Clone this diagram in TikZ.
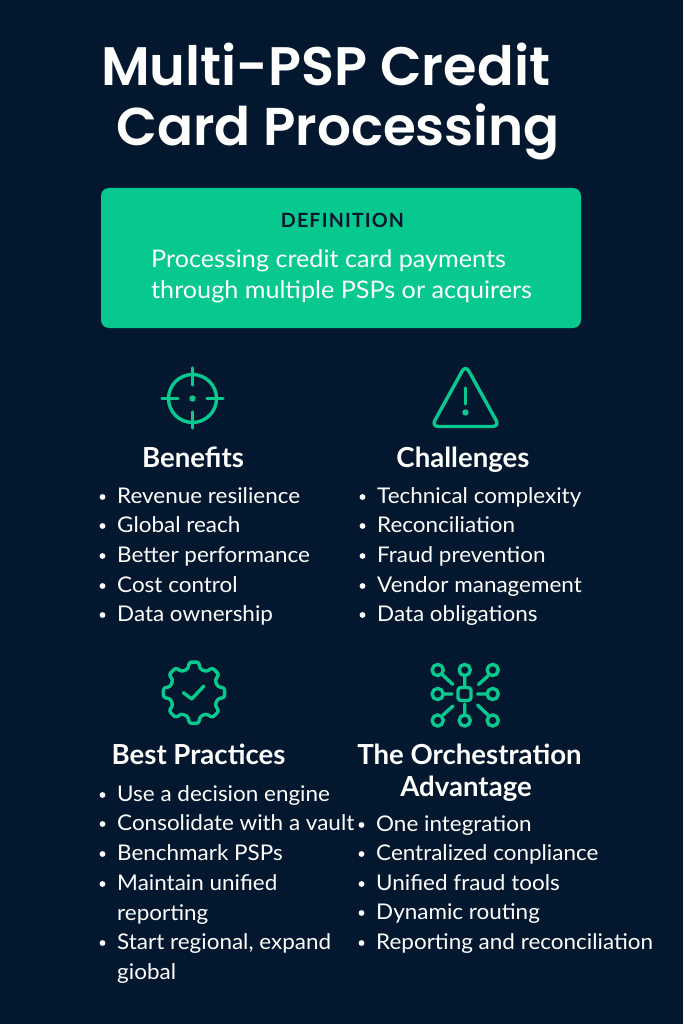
\documentclass[tikz,border=0pt]{standalone}
\usepackage{fontspec}
\setmainfont{Lato}
\newfontfamily\titlefont{Poppins}[UprightFont=* SemiBold,BoldFont=* SemiBold]
\newfontfamily\bodyfont{Lato}[FakeStretch=1.04]
\definecolor{bgnavy}{HTML}{03182F}
\definecolor{mint}{HTML}{07C98F}
\tikzset{
  txt/.style={anchor=base west,inner sep=0pt,text=white,font=\bodyfont\fontsize{21.6}{21.6}\selectfont},
  head/.style={anchor=base,inner sep=0pt,text=white,font=\fontsize{27.6}{27.6}\selectfont\bfseries},
  ttl/.style={anchor=base west,inner sep=0pt,text=white,font=\titlefont\fontsize{54.2}{54.2}\selectfont},
  ttlb/.style={anchor=base west,inner sep=0pt,text=white,font=\titlefont\fontsize{53.2}{53.2}\selectfont},
  dfn/.style={anchor=base west,inner sep=0pt,text=white,font=\bodyfont\fontsize{24.2}{24.2}\selectfont},
  icon/.style={draw=mint,line width=3.4pt,line cap=round,line join=round},
  dotb/.style={fill=white}
}
\newcommand{\itm}[4]{% name, x, y, text
  \fill[dotb] (#2-14.5,-#3+6) circle (2.9);
  \node[txt] (#1) at (#2,-#3-0.7) {#4};}
\newcommand{\cnt}[2]{(#1,-#2) circle (5.6)}
\begin{document}
\begin{tikzpicture}[x=1pt,y=1pt]
\path[use as bounding box,fill=bgnavy] (0,0) rectangle (683,-1024);
% title
\node[ttl] (t1) at (101,-86) {Multi-PSP Credit};
\node[ttlb] (t2) at (116,-146) {Card Processing};
% definition box
\fill[mint,rounded corners=8] (101,-188) rectangle (581,-328);
\node[anchor=base,inner sep=0pt,text=bgnavy,font=\fontsize{19.6}{19.6}\selectfont\bfseries] (d0) at (342.5,-228) {\addfontfeature{LetterSpace=6}DEFINITION};
\node[dfn] (d1) at (151,-267.6) {Processing credit card payments};
\node[dfn] (d2) at (151,-298.6) {through multiple PSPs or acquirers};
% target icon
\draw[icon] (192.5,-398.5) circle (24);
\draw[icon] (192.5,-368) -- (192.5,-385) (192.5,-412) -- (192.5,-428)
            (162,-398.5) -- (178,-398.5) (207,-398.5) -- (223,-398.5);
\fill[mint] (192.5,-398.5) circle (3.2);
% warning icon
\draw[icon,rounded corners=7] (465.5,-365) -- (499.5,-426.5) -- (431.5,-426.5) -- cycle;
\draw[icon] (465.5,-388) -- (465.5,-404);
\fill[mint] (465.5,-412.5) circle (3.2);
% gear icon
\draw[icon,rounded corners=2.5]
  \foreach \a [count=\i] in {90,45,0,-45,-90,-135,180,135}{
    \ifnum\i=1 ([shift={(\a+9:31)}]194,-692.7) \else -- ([shift={(\a+9:31)}]194,-692.7)\fi
    -- ([shift={(\a-9:31)}]194,-692.7)
    -- ([shift={(\a-14:24.5)}]194,-692.7)
    -- ([shift={(\a-31:24.5)}]194,-692.7)
  } -- cycle;
\draw[icon] (183.3,-692.7) -- (191.7,-699) -- (204,-686);
% network icon
\draw[icon,rounded corners=3] (458,-687.5) rectangle (471,-700.5);
\draw[icon] \cnt{437.7}{670} \cnt{464.7}{670} \cnt{492.7}{670}
            \cnt{437.7}{694} \cnt{492.7}{694}
            \cnt{437.7}{720.5} \cnt{464.7}{720.5} \cnt{492.7}{720.5};
\draw[icon] (442.7,-675) -- (452.7,-684.3) (464.7,-676) -- (464.7,-687)
            (478.5,-684.5) -- (488,-676) (444,-694) -- (452,-694)
            (477.5,-694) -- (486.5,-694) (443,-715) -- (453,-706)
            (464.7,-704) -- (464.7,-714) (477.5,-705) -- (488,-715);
% headings
\node[head] (h1) at (193,-467.3) {Benefits};
\node[head] (h2) at (463,-467.3) {Challenges};
\node[head] (h3) at (198.5,-764.3) {Best Practices};
\node[head] (h4) at (469.5,-764.3) {The Orchestration};
\node[head] (h4b) at (466,-796.3) {Advantage};
% lists
\itm{a1}{117}{503}{Revenue resilience}
\itm{a2}{117}{532}{Global reach}
\itm{a3}{117}{562}{Better performance}
\itm{a4}{117}{592}{Cost control}
\itm{a5}{117}{621}{Data ownership}
\itm{b1}{377}{503}{Technical complexity}
\itm{b2}{377}{532}{Reconciliation}
\itm{b3}{377}{562}{Fraud prevention}
\itm{b4}{377}{592}{Vendor management}
\itm{b5}{377}{621}{Data obligations}
\itm{c1}{117}{801}{Use a decision engine}
\itm{c2}{117}{830}{Consolidate with a vault}
\itm{c3}{117}{860}{Benchmark PSPs}
\itm{c4}{117}{890}{Maintain unified}
\node[txt] (c4b) at (117,-920.7) {reporting};
\itm{c5}{117}{949}{Start regional, expand}
\node[txt] (c5b) at (117,-979.7) {giobal};
\itm{e1}{376}{831}{One integration}
\itm{e2}{376}{860}{Centralized conpliance}
\itm{e3}{376}{890}{Unified fraud tools}
\itm{e4}{376}{919}{Dynamic routing}
\itm{e5}{376}{949}{Reporting and reconciliation}
\end{tikzpicture}
\end{document}
